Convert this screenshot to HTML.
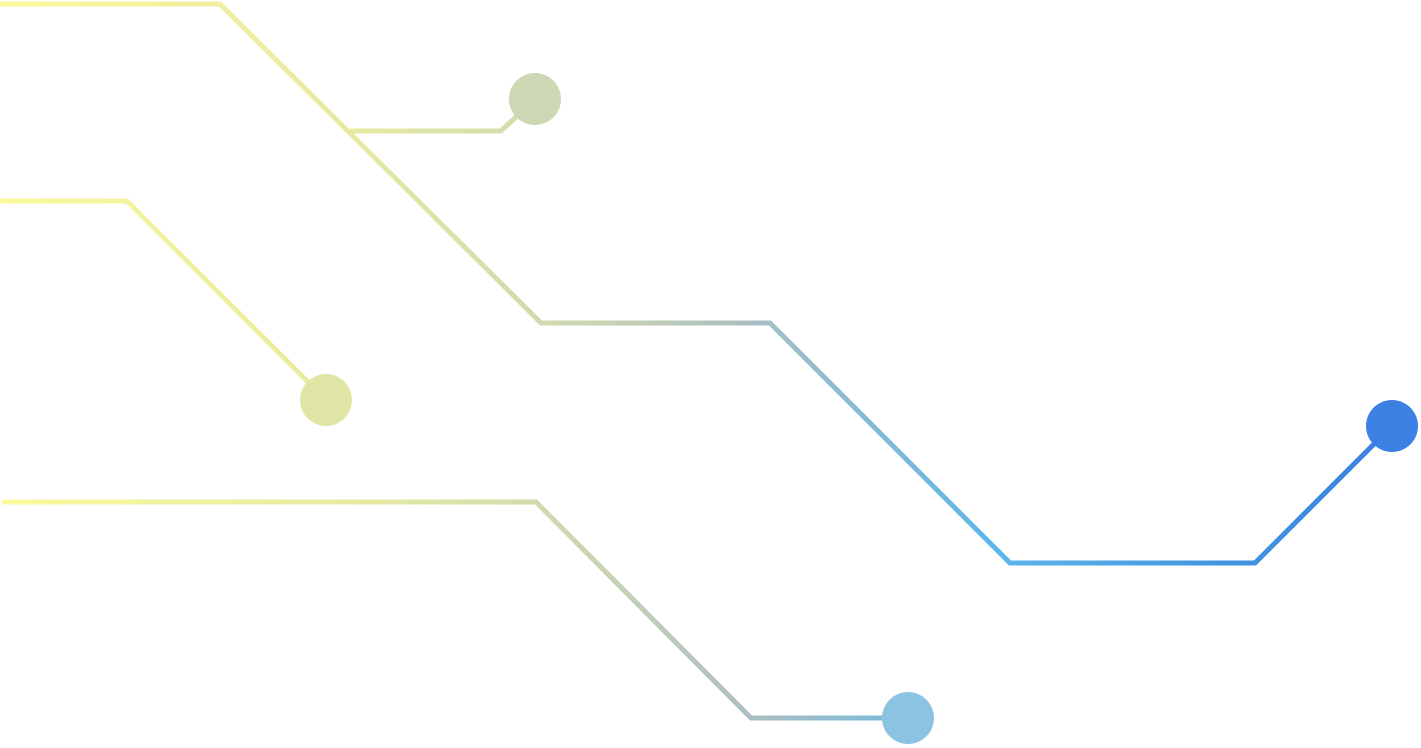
<!DOCTYPE html>
<html>
<head>
<meta charset="utf-8">
<style>
html,body{margin:0;padding:0;background:#fff;}
svg{display:block;}
</style>
</head>
<body>
<svg width="1421" height="748" viewBox="0 0 1421 748" xmlns="http://www.w3.org/2000/svg">
<defs>
<linearGradient id="g" gradientUnits="userSpaceOnUse" x1="0" y1="0" x2="1421" y2="0">
<stop offset="0" stop-color="#fbf99b"/>
<stop offset="0.25" stop-color="#e6eaa2"/>
<stop offset="0.4" stop-color="#cdd8b0"/>
<stop offset="0.52" stop-color="#aebfc0"/>
<stop offset="0.7" stop-color="#5cb6ea"/>
<stop offset="0.86" stop-color="#4096e0"/>
<stop offset="1" stop-color="#3a7be2"/>
</linearGradient>
</defs>
<g fill="none" stroke="url(#g)" stroke-width="5" stroke-linejoin="miter">
<polyline points="0,4 220,4 541,323 770,323 1010,563 1255,563 1392,426"/>
<polyline points="350,131 501,131 535,99"/>
<polyline points="0,201 127,201 326,400"/>
<polyline points="2,502 536,502 751,718 908,718"/>
</g>
<circle cx="535" cy="99" r="26" fill="#ccd8b4"/>
<circle cx="326" cy="400" r="26" fill="#e0e5a6"/>
<circle cx="908" cy="718" r="26" fill="#8cc3e3"/>
<circle cx="1392" cy="426" r="26" fill="#3b80e2"/>
</svg>
</body>
</html>
